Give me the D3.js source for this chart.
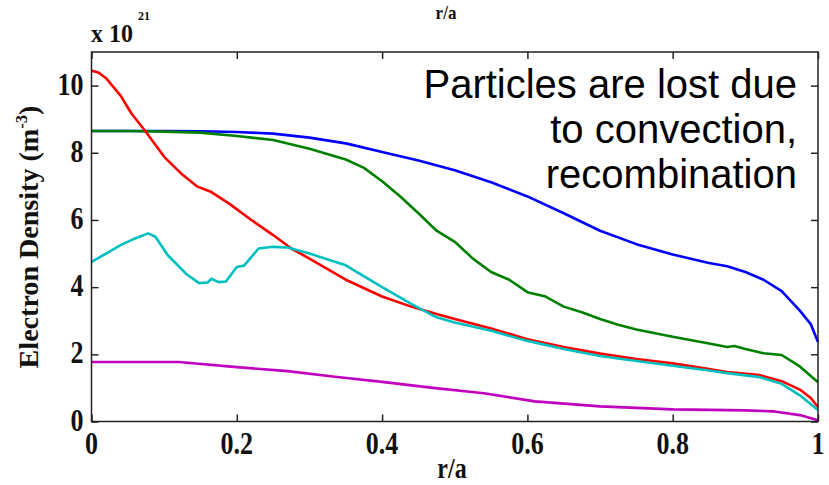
<!DOCTYPE html>
<html>
<head>
<meta charset="utf-8">
<script src="https://cdn.jsdelivr.net/npm/d3@7"></script>
<style>
  body { margin: 0; background: #fff; }
  svg { display: block; }
  .frame { fill: none; stroke: #222; stroke-width: 1.5; }
  .axis path { display: none; }
  .axis line { stroke: #222; stroke-width: 1.5; }
  .series { fill: none; stroke-width: 2.6; stroke-linejoin: round; }
  .lbl { font-family: "Liberation Serif", "Times New Roman", serif; font-weight: bold; fill: #111; }
  .note { font-family: "Liberation Sans", Arial, sans-serif; font-size: 40px; fill: #000; }
</style>
</head>
<body>
<svg width="829" height="485"></svg>
<script>
// r/a positions and densities (x 10^21 m^-3)
const blueR = [0, 0.05, 0.1, 0.15, 0.2, 0.25, 0.3, 0.35, 0.4, 0.45, 0.5, 0.55, 0.6, 0.65, 0.7, 0.75, 0.8, 0.85, 0.875, 0.9, 0.925, 0.95, 0.975, 0.99, 1.0];
const blueN = [8.65, 8.65, 8.65, 8.64, 8.62, 8.57, 8.45, 8.28, 8.02, 7.77, 7.48, 7.12, 6.7, 6.2, 5.68, 5.28, 4.97, 4.72, 4.62, 4.45, 4.22, 3.88, 3.3, 2.9, 2.37];

const greenR = [0, 0.05, 0.1, 0.15, 0.2, 0.25, 0.3, 0.35, 0.375, 0.4, 0.425, 0.45, 0.475, 0.5, 0.525, 0.55, 0.575, 0.6, 0.625, 0.65, 0.675, 0.7, 0.725, 0.75, 0.8, 0.85, 0.875, 0.885, 0.9, 0.925, 0.95, 0.975, 1.0];
const greenN = [8.65, 8.65, 8.63, 8.6, 8.5, 8.38, 8.12, 7.8, 7.55, 7.15, 6.7, 6.2, 5.68, 5.35, 4.85, 4.45, 4.22, 3.85, 3.72, 3.42, 3.25, 3.05, 2.88, 2.74, 2.52, 2.32, 2.22, 2.25, 2.16, 2.03, 1.98, 1.64, 1.17];

const redR = [0, 0.01, 0.02, 0.04, 0.055, 0.075, 0.1, 0.125, 0.145, 0.165, 0.19, 0.22, 0.25, 0.275, 0.3, 0.35, 0.4, 0.44, 0.475, 0.5, 0.55, 0.6, 0.65, 0.7, 0.75, 0.8, 0.85, 0.875, 0.92, 0.95, 0.975, 0.99, 1.0];
const redN = [10.45, 10.38, 10.22, 9.7, 9.17, 8.62, 7.88, 7.35, 7.0, 6.83, 6.48, 6.0, 5.55, 5.15, 4.85, 4.22, 3.72, 3.42, 3.2, 3.05, 2.77, 2.45, 2.22, 2.02, 1.86, 1.73, 1.56, 1.47, 1.38, 1.2, 0.95, 0.7, 0.43];

const cyanR = [0, 0.02, 0.04, 0.06, 0.078, 0.088, 0.105, 0.13, 0.148, 0.16, 0.165, 0.175, 0.185, 0.2, 0.21, 0.23, 0.25, 0.27, 0.3, 0.35, 0.4, 0.44, 0.475, 0.5, 0.55, 0.6, 0.65, 0.7, 0.75, 0.8, 0.85, 0.875, 0.92, 0.95, 0.975, 1.0];
const cyanN = [4.75, 5.0, 5.25, 5.45, 5.6, 5.5, 4.95, 4.4, 4.12, 4.14, 4.25, 4.15, 4.17, 4.6, 4.64, 5.15, 5.2, 5.18, 5.0, 4.65, 4.0, 3.5, 3.1, 2.95, 2.7, 2.4, 2.16, 1.95, 1.8, 1.66, 1.52, 1.44, 1.32, 1.12, 0.78, 0.34];

const magentaR = [0, 0.12, 0.2, 0.27, 0.335, 0.4, 0.47, 0.54, 0.61, 0.7, 0.8, 0.9, 0.94, 0.975, 1.0];
const magentaN = [1.77, 1.77, 1.62, 1.5, 1.33, 1.18, 1.0, 0.84, 0.6, 0.45, 0.36, 0.33, 0.3, 0.19, 0.04];

const xTicks = [0, 0.2, 0.4, 0.6, 0.8, 1];
const xTickLabels = ["0", "0.2", "0.4", "0.6", "0.8", "1"];
const yTicks = [0, 2, 4, 6, 8, 10];
const yTickLabels = ["0", "2", "4", "6", "8", "10"];
const noteLines = ["Particles are lost due", "to convection,", "recombination"];

const series = [
    { r: blueR, n: blueN, color: "#0000ff" },
    { r: greenR, n: greenN, color: "#008000" },
    { r: redR, n: redN, color: "#ff0000" },
    { r: cyanR, n: cyanN, color: "#00bfbf" },
    { r: magentaR, n: magentaN, color: "#bf00bf" }
];

const plotLeft = 91.5, plotRight = 818, plotTop = 52, plotBottom = 421.5;

const xScale = d3.scaleLinear().domain([0, 1]).range([plotLeft, plotRight]);
const yScale = d3.scaleLinear().domain([0, 11]).range([plotBottom, plotTop]);

const svg = d3.select("svg");

// stretched bold serif text, like the original export
function label(x, y, txt, size, anchor, sy) {
    return svg.append("text")
        .attr("class", "lbl")
        .attr("transform", `translate(${x},${y}) scale(1,${sy || 1.2})`)
        .attr("text-anchor", anchor)
        .style("font-size", size + "px")
        .text(txt);
}

// inward ticks on all four sides
svg.append("g").attr("class", "axis")
    .attr("transform", `translate(0,${plotBottom})`)
    .call(d3.axisBottom(xScale).tickValues(xTicks).tickSize(-7).tickFormat(""));
svg.append("g").attr("class", "axis")
    .attr("transform", `translate(0,${plotTop})`)
    .call(d3.axisTop(xScale).tickValues(xTicks).tickSize(-7).tickFormat(""));
svg.append("g").attr("class", "axis")
    .attr("transform", `translate(${plotLeft},0)`)
    .call(d3.axisLeft(yScale).tickValues(yTicks).tickSize(-7).tickFormat(""));
svg.append("g").attr("class", "axis")
    .attr("transform", `translate(${plotRight},0)`)
    .call(d3.axisRight(yScale).tickValues(yTicks).tickSize(-7).tickFormat(""));

const line = d3.line()
    .x((d) => xScale(d[0]))
    .y((d) => yScale(d[1]));

svg.selectAll(".series")
    .data(series)
    .enter().append("path")
    .attr("class", "series")
    .attr("stroke", (d) => d.color)
    .attr("d", (d) => line(d.r.map((r, i) => [r, d.n[i]])));

svg.append("rect")
    .attr("class", "frame")
    .attr("x", plotLeft).attr("y", plotTop)
    .attr("width", plotRight - plotLeft).attr("height", plotBottom - plotTop);

xTicks.forEach((t, i) => label(xScale(t), 454, xTickLabels[i], 26, "middle"));
yTicks.forEach((t, i) => label(plotLeft - 8, yScale(t) + 9, yTickLabels[i], 26, "end"));

label(452, 478, "r/a", 24, "middle");
label(446, 19, "r/a", 17, "middle", 1.1);

// exponent above the plot
label(91, 42, "x 10", 24, "start", 1.05);
label(138, 20, "21", 12, "start", 1.1);

// rotated y label
const yl = svg.append("text")
    .attr("class", "lbl")
    .attr("transform", "translate(38,237) rotate(-90) scale(1.04,1)")
    .attr("text-anchor", "middle")
    .style("font-size", "27px");
yl.append("tspan").text("Electron Density (m");
yl.append("tspan").attr("dy", -11).style("font-size", "16px").text("-3");
yl.append("tspan").attr("dy", 11).text(")");

svg.selectAll(".note")
    .data(noteLines)
    .enter().append("text")
    .attr("class", "note")
    .attr("x", 797)
    .attr("y", (d, i) => 98 + i * 45)
    .attr("text-anchor", "end")
    .text((d) => d);
</script>
</body>
</html>
